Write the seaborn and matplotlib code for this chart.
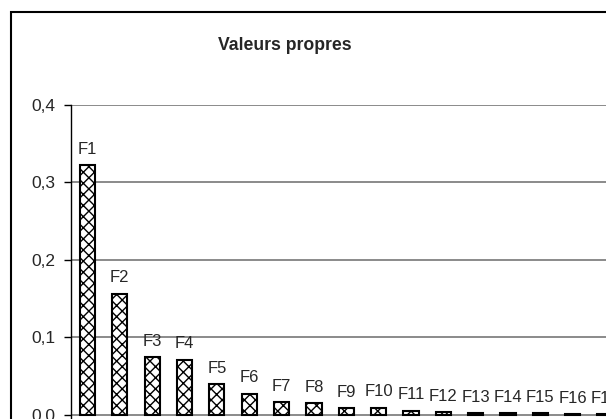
import matplotlib
matplotlib.use("Agg")
import matplotlib.pyplot as plt
from matplotlib.patches import Rectangle
import pandas as pd
import seaborn as sns

# Chart data
facteurs = ["F" + str(i) for i in range(1, 18)]
valeurs = [0.322, 0.156, 0.074, 0.071, 0.039, 0.027, 0.016, 0.015, 0.008,
           0.009, 0.005, 0.003, 0.002, 0.002, 0.002, 0.0005, 0.0005]
y_ticks = [0.0, 0.1, 0.2, 0.3, 0.4]
y_tick_labels = ["0,0", "0,1", "0,2", "0,3", "0,4"]

df = pd.DataFrame({"facteur": facteurs, "valeur": valeurs})

sns.set_style("white")
plt.rcParams['font.family'] = ['Liberation Sans', 'DejaVu Sans']
plt.rcParams['hatch.linewidth'] = 1.0

fig = plt.figure(figsize=(6.06, 4.19), dpi=100)
ax = fig.add_axes([71 / 606, 0, 535 / 606, 314 / 419])

sns.barplot(data=df, x="facteur", y="valeur", color="white", edgecolor="black",
            linewidth=1.5, width=0.47, saturation=1, ax=ax)
for bar in ax.patches:
    bar.set_hatch("xxx")

# value labels above each bar are the factor names
ax.bar_label(ax.containers[0], labels=facteurs, padding=6, fontsize=12,
             clip_on=False)

ax.set_xlim(-0.51, 16.03)
ax.set_ylim(-0.0058, 0.4)
ax.set_yticks(y_ticks)
ax.set_yticklabels(y_tick_labels, fontsize=12.5)
ax.set_xticks([])
ax.set_xlabel("")
ax.set_ylabel("")

# gridlines / baseline
for t in y_ticks:
    ax.axhline(t, color="#8a8a8a", lw=1.4, zorder=0)

for side in ["top", "right", "bottom"]:
    ax.spines[side].set_visible(False)
ax.spines["left"].set_color("black")
ax.spines["left"].set_linewidth(1.0)
ax.tick_params(axis="y", direction="out", length=5, width=1, color="black",
               left=True, pad=6)

# title and chart frame
fig.text(285 / 606, 1 - 45 / 419, "Valeurs propres", ha="center", va="center",
         fontsize=12.7, fontweight="bold")
fig.patches.append(Rectangle((11 / 606, -0.1), 1.2, 1.1 - 12 / 419,
                             transform=fig.transFigure, fill=False,
                             edgecolor="black", lw=1.5))

fig.savefig("out.png", dpi=100)
